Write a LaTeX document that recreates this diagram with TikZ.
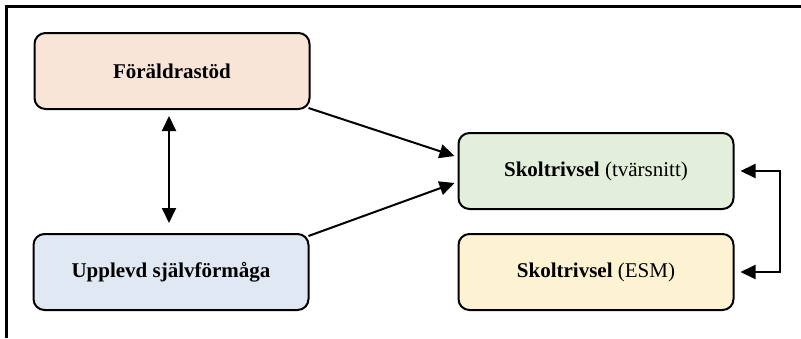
\documentclass[tikz,border=0pt]{standalone}
\usepackage{fontspec}
\setmainfont{Liberation Serif}
\usetikzlibrary{arrows.meta,positioning}

\definecolor{peach}{HTML}{F8E5D8}
\definecolor{skyblue}{HTML}{DFE8F3}
\definecolor{mint}{HTML}{E3EFDA}
\definecolor{cream}{HTML}{FDF2D1}

\tikzset{
  box/.style={draw=black, line width=2pt, rounded corners=11pt,
    minimum width=275pt, minimum height=76pt, inner sep=0pt,
    font=\fontsize{21}{25}\selectfont},
  head/.style={Triangle[length=15pt,width=14pt]},
  link/.style={line width=2pt, -{Triangle[length=15pt,width=14pt]}},
  twoway/.style={line width=2pt, {Triangle[length=15pt,width=14pt]}-{Triangle[length=15pt,width=14pt]}},
  frameline/.style={line width=3pt}
}

\begin{document}
\begin{tikzpicture}[x=1pt, y=-1pt]
  \useasboundingbox (0,0) rectangle (801,338);

  % outer frame, top and left edges only
  \draw[frameline] (4.5,6) -- (801,6);
  \draw[frameline] (6,4.5) -- (6,338);

  \node[box, fill=peach]   (f) at (172,71)  {\textbf{Föräldrastöd}};
  \node[box, fill=skyblue] (u) at (171,272) {\textbf{Upplevd självförmåga}};
  \node[box, fill=mint]    (t) at (596,171) {\textbf{Skoltrivsel} (tvärsnitt)};
  \node[box, fill=cream]   (e) at (596,272) {\textbf{Skoltrivsel} (ESM)};

  \draw[twoway] ([xshift=-3pt,yshift=-6pt]f.south) -- ([xshift=-2pt,yshift=10pt]u.north);
  \draw[link] ([xshift=-2pt,yshift=2pt]f.south east) -- ([xshift=-3pt,yshift=15pt]t.west);
  \draw[link] ([xshift=-1pt,yshift=-3pt]u.north east) -- ([xshift=-3pt,yshift=-12pt]t.west);
  \draw[twoway] ([xshift=6pt]t.east) -- ++(39,0) |- ([xshift=6pt]e.east);
\end{tikzpicture}
\end{document}
